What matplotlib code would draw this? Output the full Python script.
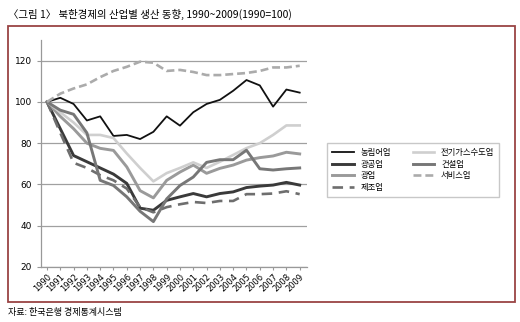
#!/usr/bin/env python3
# -*- coding: utf-8 -*-
# North Korea production index by industry, 1990~2009 (1990=100)

import matplotlib
matplotlib.use("Agg")
import matplotlib.pyplot as plt
from matplotlib.patches import Rectangle

plt.rcParams["font.family"] = ["Noto Sans CJK KR", "DejaVu Sans"]

# -----------------------------------------------------------------------------
# Data
# -----------------------------------------------------------------------------

years = [str(y) for y in range(1990, 2010)]

agri = [100, 102, 99, 91, 93, 83.5, 84, 82, 85.5, 93,
        88.5, 95, 99, 101, 105.4, 110.6, 108, 97.7, 106, 104.5]
mining_mfg = [100, 87, 74, 71, 68, 65, 60.5, 48.5, 47.5, 52.3,
              54, 55.6, 54, 55.6, 56.4, 58.5, 59.2, 59.7, 61, 59.7]
mining = [100, 93, 87, 80, 77.5, 76.5, 68.5, 57, 53.5, 62,
          66, 69.4, 65.4, 67.8, 69.4, 71.8, 73, 73.8, 75.6, 74.8]
manufacturing = [100, 85, 70.5, 68, 64.5, 62, 58, 49, 46.5, 49,
                 50.4, 51.5, 51, 52, 52, 55.3, 55.3, 55.6, 56.7, 55.3]
utilities = [100, 95, 90, 84, 84, 82.5, 75, 68, 61.5, 65.5,
             68, 70.7, 68, 71, 74.3, 77.6, 80, 84, 88.6, 88.6]
construction = [100, 96, 94, 85, 62, 59.5, 54, 47, 42, 53,
                59.5, 63.6, 70.7, 72, 72, 76.6, 67.6, 67, 67.6, 68]
services = [100, 104, 106.5, 108.5, 112, 115, 117, 119.5, 119, 115,
            115.5, 114.5, 113, 113, 113.5, 114, 115, 116.7, 116.7, 117.5]

y_ticks = [20, 40, 60, 80, 100, 120]

# label, values, colour, linestyle, linewidth (legend fills column-wise)
series = [
    ("농림어업", agri, "#111111", "-", 1.3),
    ("광공업", mining_mfg, "#3a3a3a", "-", 2.1),
    ("광업", mining, "#9a9a9a", "-", 2.1),
    ("제조업", manufacturing, "#6e6e6e", (0, (4, 2.5)), 1.9),
    ("전기가스수도업", utilities, "#cfcfcf", "-", 1.9),
    ("건설업", construction, "#777777", "-", 2.1),
    ("서비스업", services, "#ababab", (0, (3, 1.5)), 1.9),
]

# -----------------------------------------------------------------------------
# Figure
# -----------------------------------------------------------------------------

fig = plt.figure(figsize=(5.2, 3.22), dpi=100)
fig.patches.append(Rectangle((8 / 520, 1 - 302 / 322), 507 / 520, 276 / 322,
                             transform=fig.transFigure, fill=False,
                             edgecolor="#9a4444", linewidth=1.3))

ax = fig.add_axes([41 / 520, 1 - 267 / 322, 266 / 520, 227 / 322])
x = list(range(len(years)))
for label, vals, color, ls, lw in series:
    ax.plot(x, vals, color=color, linestyle=ls, linewidth=lw, label=label)

ax.set_xlim(-0.45, len(years) - 0.45)
ax.set_ylim(20, 130)
ax.set_yticks(y_ticks)
ax.set_xticks(x)
ax.set_xticklabels(years, rotation=45, ha="right", rotation_mode="anchor",
                   fontsize=6, family="DejaVu Sans")
ax.tick_params(axis="y", labelsize=6.5, length=3, color="#999999")
ax.tick_params(axis="x", length=2.5, color="#999999", pad=1)
for lab in ax.get_yticklabels():
    lab.set_family("DejaVu Sans")

ax.grid(axis="y", color="#a0a0a0", linewidth=0.9)
ax.set_axisbelow(True)
for side in ["top", "right"]:
    ax.spines[side].set_visible(False)
for side in ["left", "bottom"]:
    ax.spines[side].set_color("#999999")
    ax.spines[side].set_linewidth(0.9)

fig.legend(loc="upper left", bbox_to_anchor=(323 / 520, 1 - 139 / 322),
           ncol=2, fontsize=6, frameon=True, fancybox=False,
           edgecolor="#bbbbbb", handlelength=2.6, columnspacing=2.6,
           labelspacing=0.3, borderpad=0.6)

fig.text(8 / 520, 1 - 14 / 322,
         "〈그림 1〉 북한경제의 산업별 생산 동향, 1990~2009(1990=100)",
         fontsize=7.5, va="center", ha="left")
fig.text(8 / 520, 1 - 313 / 322, "자료: 한국은행 경제통계시스템",
         fontsize=6.5, va="center", ha="left")

fig.savefig("out.png", dpi=100)
